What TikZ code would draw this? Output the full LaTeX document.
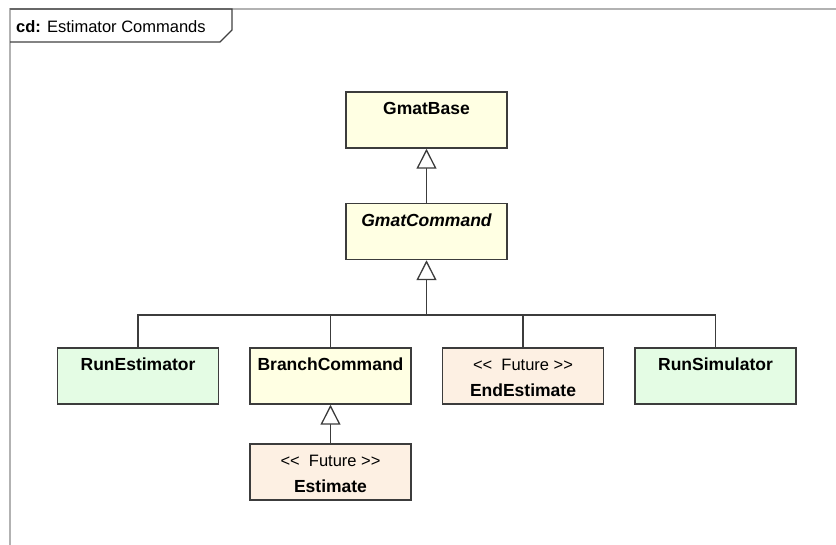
\documentclass[tikz,border=0pt]{standalone}
\usepackage{fontspec}
\setmainfont{Liberation Sans}
\usetikzlibrary{arrows.meta}
\definecolor{ylw}{HTML}{FFFFE3}
\definecolor{grn}{HTML}{E4FCE4}
\definecolor{pch}{HTML}{FDF0E3}
\definecolor{edge}{HTML}{3C3C3C}
\begin{document}
\begin{tikzpicture}[x=1pt,y=-1pt,
  box/.style={draw=edge, line width=1.5pt, minimum width=161pt, minimum height=56pt, inner sep=0pt},
  lbl/.style={anchor=base, font=\fontsize{17.5}{20}\selectfont\bfseries, inner sep=0pt},
  ster/.style={anchor=base, font=\fontsize{16.5}{20}\selectfont, inner sep=0pt},
  conn/.style={draw=edge, line width=1.5pt},
  inh/.style={conn, -{Triangle[open, length=20pt, width=20pt, line width=1.3pt, fill=white]}}
]
\useasboundingbox (0,0) rectangle (836,545);
% frame
\draw[gray!60, line width=1.2pt] (10,545) -- (10,9) -- (836,9);
\draw[black!75, line width=1.2pt] (10,9) -- (232,9) -- (232,30) -- (220,42) -- (10,42);
\node[anchor=base west, inner sep=0pt, font=\fontsize{16.5}{20}\selectfont] (title) at (16,33) {\textbf{cd:} Estimator Commands};
% boxes
\node[box, fill=ylw] (gb) at (426.5,120) {};
\node[box, fill=ylw] (gc) at (426.5,231.5) {};
\node[box, fill=grn] (re) at (138,376) {};
\node[box, fill=ylw] (bc) at (330.5,376) {};
\node[box, fill=pch] (ee) at (523,376) {};
\node[box, fill=grn] (rs) at (715.5,376) {};
\node[box, fill=pch] (es) at (330.5,472) {};
% labels
\node[lbl] (gbt) at ([yshift=-23.5pt]gb.north) {GmatBase};
\node[lbl, font=\fontsize{17.5}{20}\selectfont\bfseries\itshape] (gct) at ([yshift=-24pt]gc.north) {GmatCommand};
\node[lbl] (ret) at ([yshift=-23pt]re.north) {RunEstimator};
\node[lbl] (bct) at ([yshift=-23pt]bc.north) {BranchCommand};
\node[ster] (ees) at ([yshift=-23pt]ee.north) {{<}{<}\ \ Future {>}{>}};
\node[lbl] (eet) at ([yshift=-49pt]ee.north) {EndEstimate};
\node[lbl] (rst) at ([yshift=-23pt]rs.north) {RunSimulator};
\node[ster] (ess) at ([yshift=-23pt]es.north) {{<}{<}\ \ Future {>}{>}};
\node[lbl] (est) at ([yshift=-49pt]es.north) {Estimate};
% connectors
\coordinate (bus) at (426.5,315);
\draw[inh] (gc.north) -- (gb.south);
\draw[inh] (bus) -- (gc.south);
\draw[conn] (re.north) |- (bus) -| (rs.north);
\draw[conn] (bc.north) -- (bc.north |- bus);
\draw[conn] (ee.north) -- (ee.north |- bus);
\draw[inh] (es.north) -- (bc.south);
\end{tikzpicture}
\end{document}
